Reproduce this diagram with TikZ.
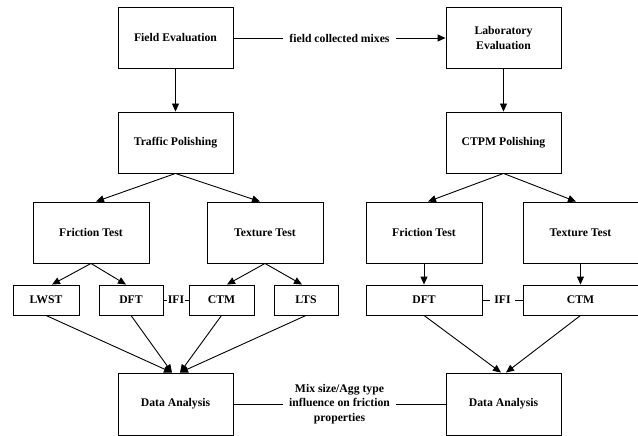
\documentclass[tikz,border=0pt]{standalone}
\usepackage{fontspec}
\setmainfont{Liberation Serif}
\usetikzlibrary{arrows.meta,calc}
\begin{document}
\begin{tikzpicture}[x=1pt,y=-1pt,
  box/.style={draw,line width=0.9pt,inner sep=1pt,align=center,font=\fontsize{11.7}{14.5}\selectfont\bfseries},
  big/.style={box,minimum width=115pt,minimum height=61pt},
  small/.style={box,minimum height=30pt},
  conn/.style={line width=0.9pt},
  arr/.style={conn,-{Triangle[length=8pt,width=7pt]}},
  lab/.style={fill=white,inner sep=2pt,align=center,font=\fontsize{11.7}{14.5}\selectfont\bfseries}]
\useasboundingbox (0,0) rectangle (638,436);
\node[big] (field) at (175.5,38) {Field Evaluation};
\node[big] (traffic) at (175.5,142.5) {Traffic Polishing};
\node[big] (lab) at (503.5,38) {Laboratory\\Evaluation};
\node[big] (ctpm) at (503.5,142.5) {CTPM Polishing};
\node[big,minimum width=116pt] (frl) at (91,232.5) {Friction Test};
\node[big,minimum width=116pt] (texl) at (265,232.5) {Texture Test};
\node[big,minimum width=116pt] (frr) at (424,232.5) {Friction Test};
\node[big] (texr) at (580.5,232.5) {Texture Test};
\node[small,minimum width=66pt] (lwst) at (46,300) {LWST};
\node[small,minimum width=64pt] (dftl) at (131,300) {DFT};
\node[small,minimum width=65pt] (ctml) at (221.5,300) {CTM};
\node[small,minimum width=64pt] (lts) at (306,300) {LTS};
\node[small,minimum width=116pt] (dftr) at (424,300) {DFT};
\node[small,minimum width=115pt] (ctmr) at (580.5,300) {CTM};
\node[big,minimum height=62pt] (dal) at (175.5,404) {Data Analysis};
\node[big,minimum height=62pt] (dar) at (503.5,404) {Data Analysis};

\draw[arr] (field) -- node[lab,inner xsep=6pt] {field collected mixes} (lab);
\draw[arr] (field) -- (traffic);
\draw[arr] (lab) -- (ctpm);
\draw[arr] (traffic.south) -- ($(frl.north)+(5,0)$);
\draw[arr] (traffic.south) -- ($(texl.north)+(-5,0)$);
\draw[arr] (ctpm.south) -- ($(frr.north)+(4,0)$);
\draw[arr] (ctpm.south) -- ($(texr.north)+(-4.5,0)$);
\draw[arr] (frl.south) -- ($(lwst.north)+(6,0)$);
\draw[arr] (frl.south) -- ($(dftl.north)+(-5,0)$);
\draw[arr] (texl.south) -- ($(ctml.north)+(5.5,0)$);
\draw[arr] (texl.south) -- ($(lts.north)+(-4,0)$);
\draw[arr] (frr) -- (dftr);
\draw[arr] (texr) -- (ctmr);
\draw[conn] (dftl) -- node[lab,inner xsep=1pt] {IFI} (ctml);
\draw[conn] (dftr) -- node[lab,inner xsep=4pt] {IFI} (ctmr);
\draw[arr] (lwst.south) -- ($(dal.north)+(-3.5,0)$);
\draw[arr] (dftl.south) -- ($(dal.north)+(-3.5,0)$);
\draw[arr] (ctml.south) -- ($(dal.north)+(4.5,0)$);
\draw[arr] (lts.south) -- ($(dal.north)+(4.5,0)$);
\draw[arr] (dftr.south) -- ($(dar.north)+(-2.5,0)$);
\draw[arr] (ctmr.south) -- ($(dar.north)+(2.5,0)$);
\draw[conn] (dal) -- node[lab,inner xsep=6pt] {Mix size/Agg type\\influence on friction\\properties} (dar);
\end{tikzpicture}
\end{document}
